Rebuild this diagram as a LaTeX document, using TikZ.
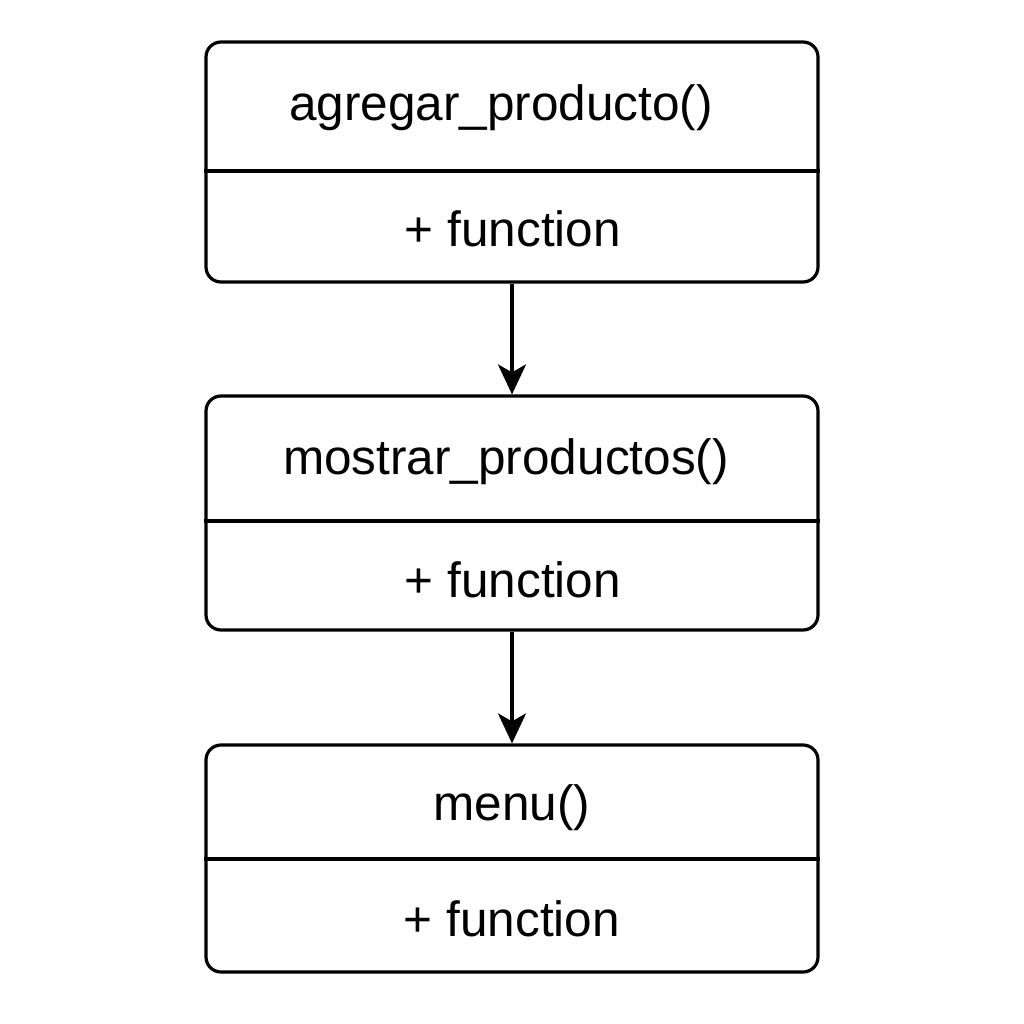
\documentclass[tikz,border=0pt]{standalone}
\usepackage{fontspec}
\setmainfont{Liberation Sans}
\usetikzlibrary{arrows.meta}
\begin{document}
\begin{tikzpicture}[x=1pt,y=-1pt,
  box/.style={draw,line width=3.2pt,rounded corners=15pt,minimum width=612pt,inner sep=0pt},
  lbl/.style={anchor=base,font=\fontsize{49.5}{56}\selectfont,inner sep=0pt},
  divider/.style={line width=3.2pt},
  conn/.style={line width=3.2pt,-{Stealth[length=30pt,width=28pt,inset=8pt]}}]
\useasboundingbox (0,0) rectangle (1024,1024);
\node[box,minimum height=240pt] (b1) at (512,162) {};
\node[box,minimum height=234pt] (b2) at (512,513) {};
\node[box,minimum height=227pt] (b3) at (512,858.5) {};
\draw[divider] (b1.west |- 0,171) -- (b1.east |- 0,171);
\draw[divider] (b2.west |- 0,521) -- (b2.east |- 0,521);
\draw[divider] (b3.west |- 0,859) -- (b3.east |- 0,859);
\node[lbl] (t1) at (501,121) {agregar\_producto()};
\node[lbl] (f1) at (513,247) {+ function};
\node[lbl] (t2) at (506,474) {mostrar\_productos()};
\node[lbl] (f2) at (513,597) {+ function};
\node[lbl] (t3) at (512,820) {menu()};
\node[lbl] (f3) at (512,936) {+ function};
\draw[conn] (b1.south) -- (b2.north);
\draw[conn] (b2.south) -- (b3.north);
\end{tikzpicture}
\end{document}
